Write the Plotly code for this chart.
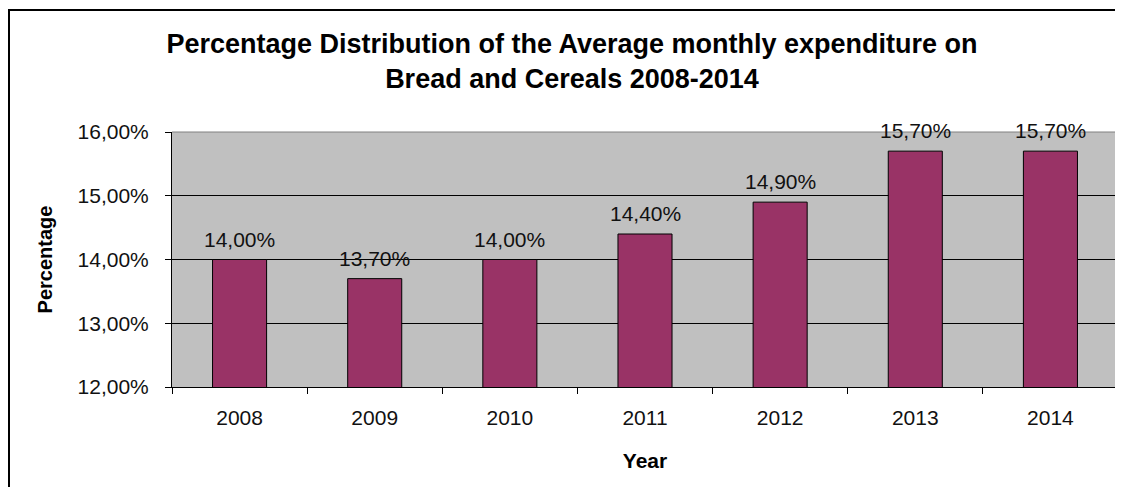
import plotly.graph_objects as go

years = ["2008", "2009", "2010", "2011", "2012", "2013", "2014"]
values = [14.0, 13.7, 14.0, 14.4, 14.9, 15.7, 15.7]
labels = ["14,00%", "13,70%", "14,00%", "14,40%", "14,90%", "15,70%", "15,70%"]
y_ticks = [12, 13, 14, 15, 16]
y_tick_labels = ["12,00%", "13,00%", "14,00%", "15,00%", "16,00%"]

FONT = "Liberation Sans, Arial, sans-serif"

W, H = 1115, 479
L, R, T, B = 164, 5, 124, 100
PW, PH = W - L - R, H - T - B

fig = go.Figure()
fig.add_trace(go.Bar(
    x=years, y=values,
    marker=dict(color="#993366", line=dict(color="#000000", width=1)),
    hoverinfo="x+y",
))

for i, (v, lab) in enumerate(zip(values, labels)):
    fig.add_annotation(x=i, y=v, text=lab, showarrow=False, yanchor="bottom",
                       yshift=7, font=dict(family=FONT, size=21, color="#111111"))

fig.update_layout(
    width=W, height=H,
    margin=dict(l=L, r=R, t=T, b=B),
    paper_bgcolor="white",
    plot_bgcolor="#C0C0C0",
    bargap=0.6,
    showlegend=False,
    title=dict(
        text="<b>Percentage Distribution of the Average monthly expenditure on<br>Bread and Cereals 2008-2014</b>",
        x=564 / W, xanchor="center", xref="container",
        y=1 - 45 / H, yanchor="middle", yref="container",
        font=dict(family=FONT, size=27, color="#000000"),
    ),
    xaxis=dict(
        type="category",
        categoryorder="array", categoryarray=years,
        range=[-0.5, len(years) - 0.5],
        tickson="boundaries",
        ticks="outside", ticklen=6, tickcolor="#000000", tickwidth=1,
        showline=True, linecolor="#000000", linewidth=1,
        showgrid=False,
        tickangle=0,
        ticklabelstandoff=12,
        tickfont=dict(family=FONT, size=21, color="#111111"),
        title=dict(text="<b>Year</b>", standoff=25,
                   font=dict(family=FONT, size=21, color="#000000")),
    ),
    yaxis=dict(
        range=[12, 16],
        tickmode="array", tickvals=y_ticks, ticktext=y_tick_labels,
        ticks="outside", ticklen=6, tickcolor="#000000", tickwidth=1,
        showline=True, linecolor="#000000", linewidth=1,
        showgrid=True, gridcolor="#000000", gridwidth=1,
        zeroline=False,
        ticklabelstandoff=12,
        tickfont=dict(family=FONT, size=21, color="#111111"),
        title=dict(text="<b>Percentage</b>", standoff=19,
                   font=dict(family=FONT, size=20, color="#000000")),
    ),
    shapes=[
        dict(type="line", xref="x domain", yref="y domain", x0=0, x1=1, y0=1, y1=1,
             line=dict(color="#808080", width=1), layer="above"),
        dict(type="line", xref="x domain", yref="y domain", x0=1, x1=1, y0=0, y1=1,
             line=dict(color="#808080", width=1), layer="above"),
        dict(type="rect", xref="paper", yref="paper",
             x0=(1 - L) / PW, x1=(W + 20 - L) / PW,
             y0=(T + PH - H - 40) / PH, y1=(T + PH - 2) / PH,
             line=dict(color="#000000", width=2), fillcolor="rgba(0,0,0,0)", layer="above"),
    ],
)

fig.write_html("out.html")
